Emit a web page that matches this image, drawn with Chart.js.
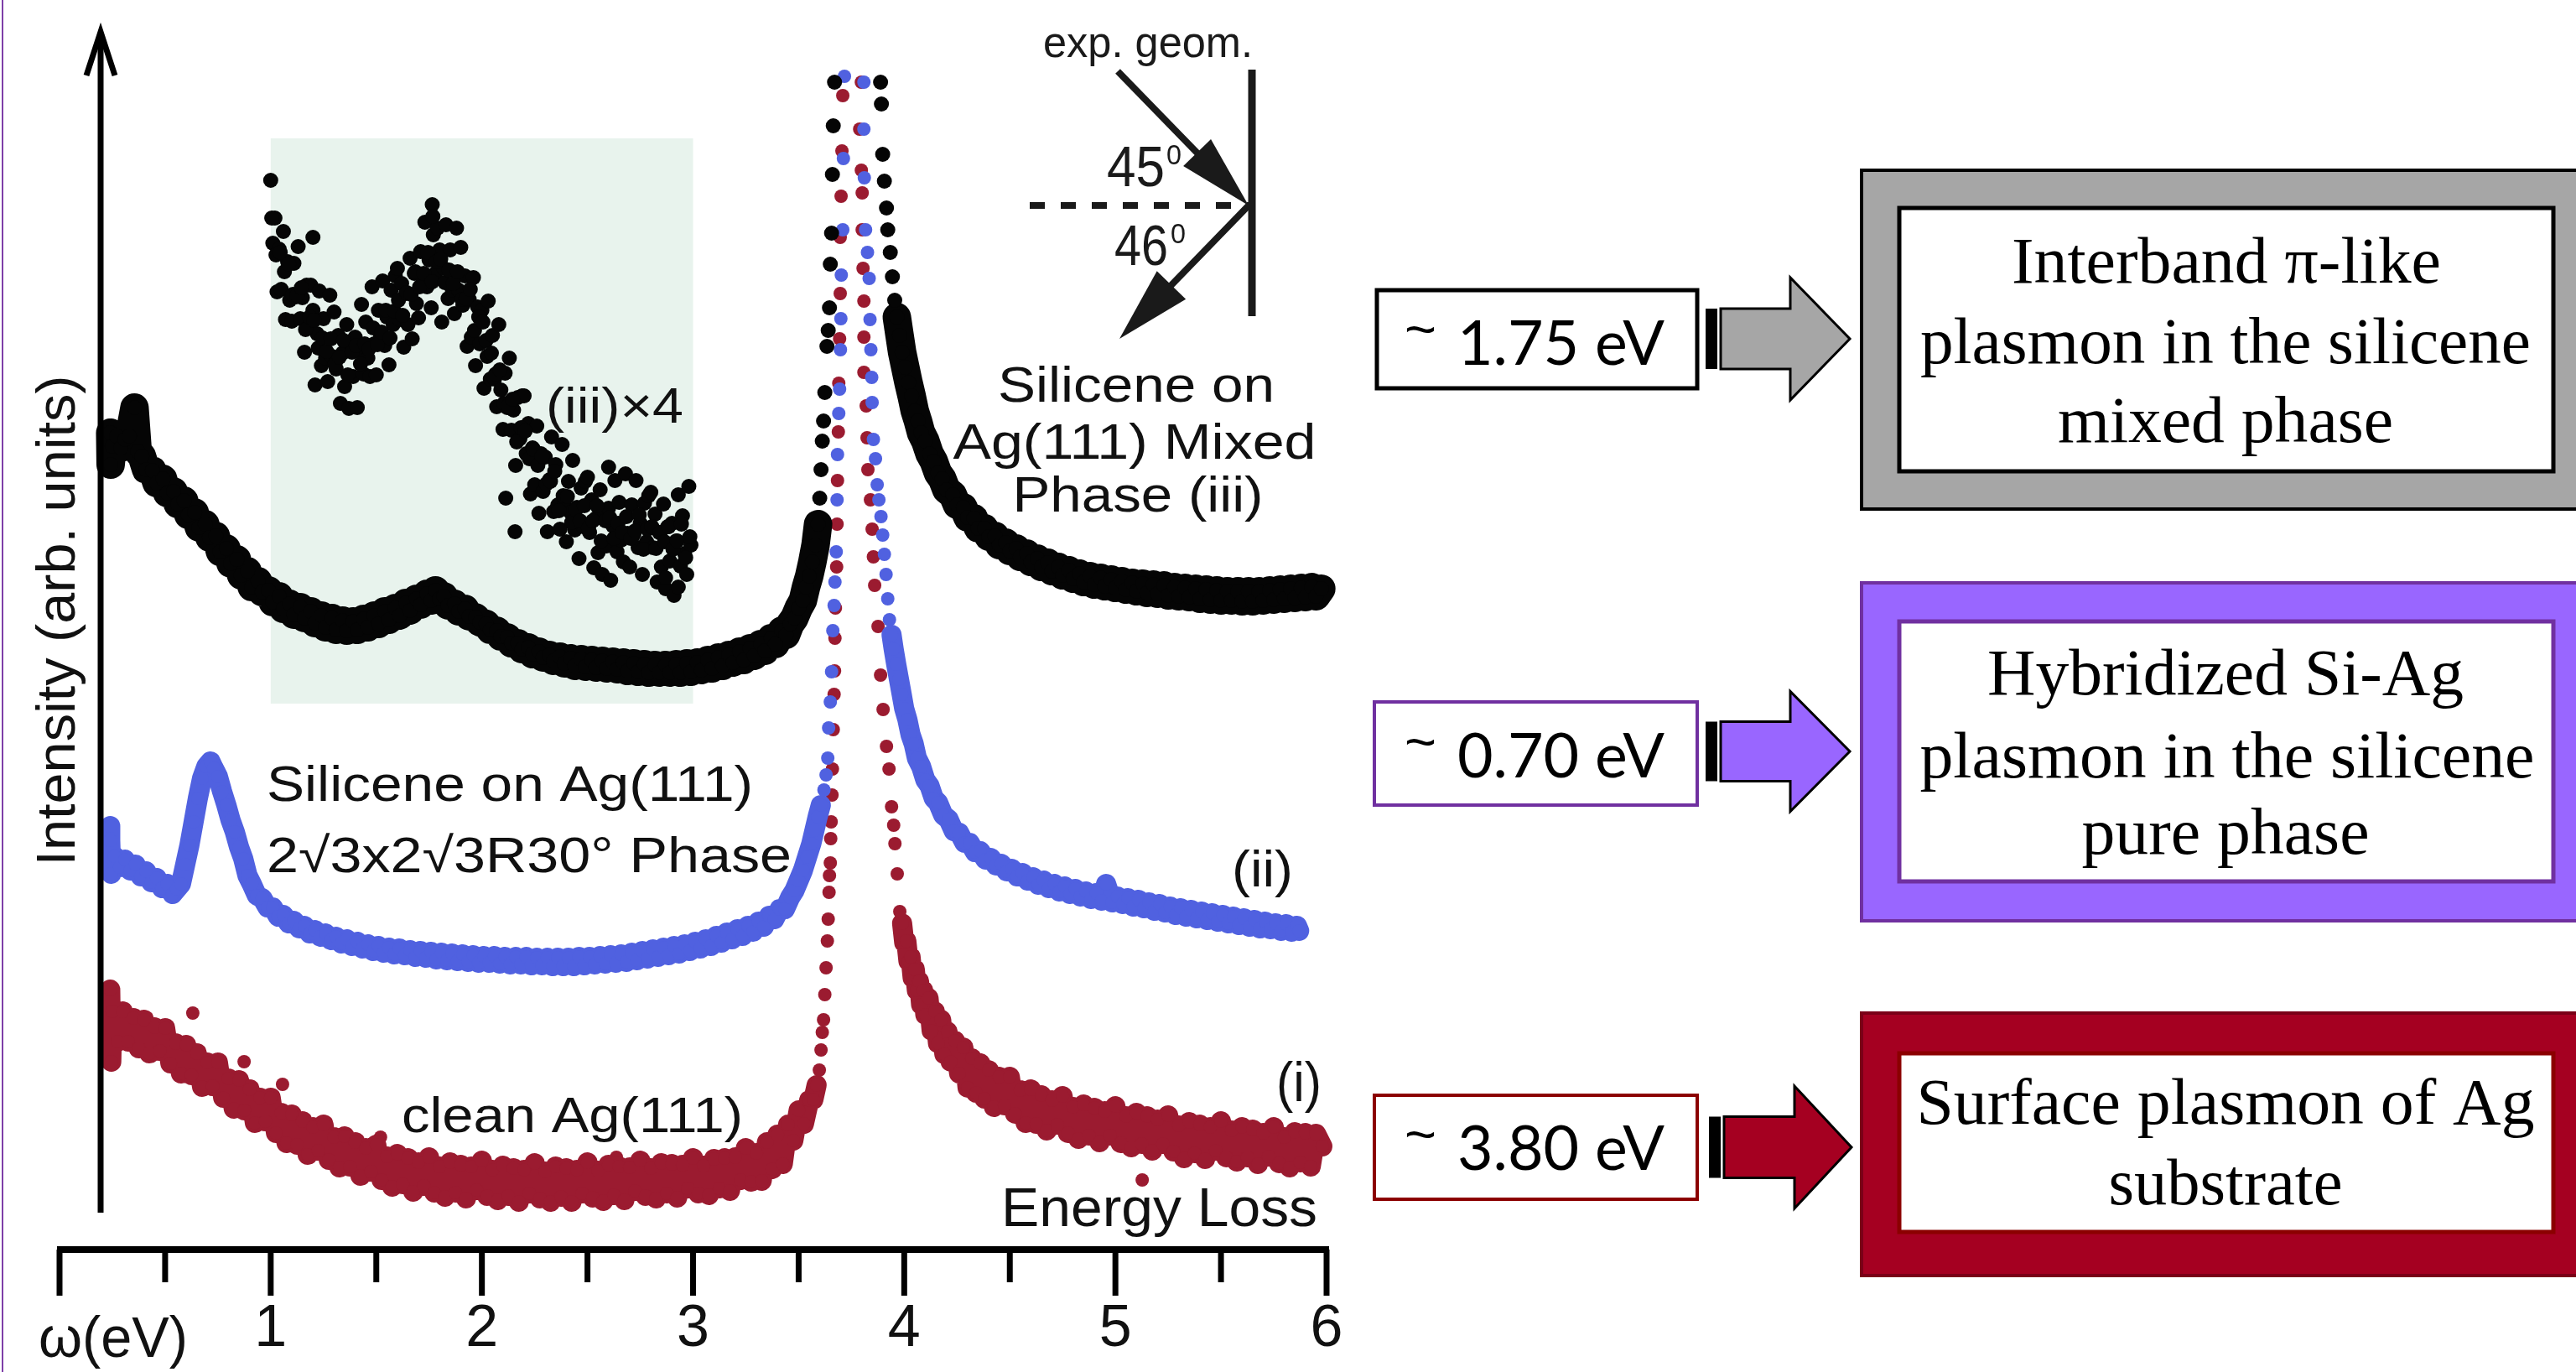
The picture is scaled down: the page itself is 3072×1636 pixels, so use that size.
<!DOCTYPE html>
<html>
<head>
<meta charset="utf-8">
<title>EELS of silicene on Ag(111)</title>
<script src="https://cdn.jsdelivr.net/npm/chart.js@4.4.1/dist/chart.umd.min.js"></script>
<style>
  html, body { margin: 0; padding: 0; background: #fff; }
  canvas { display: block; }
</style>
</head>
<body>
<canvas id="eels" width="3072" height="1636"></canvas>
<script>
// energy loss axis (eV)
const xMajorTicks = [0, 1, 2, 3, 4, 5, 6];
const xMinorTicks = [0.5, 1.5, 2.5, 3.5, 4.5, 5.5];
const xTickLabels = ['', '1', '2', '3', '4', '5', '6'];

// spectra: [energy loss (eV), intensity (arb. units)]
const cleanAg = [
  [0.240,31.0],[0.245,22.4],[0.250,28.4],[0.275,24.8],[0.300,28.4],[0.325,24.8],[0.350,27.6],[0.375,24.0],
  [0.400,27.4],[0.425,23.4],[0.450,26.5],[0.475,23.7],[0.500,26.4],[0.525,22.2],[0.550,24.6],[0.575,21.0],
  [0.600,24.4],[0.625,20.8],[0.650,23.4],[0.675,19.4],[0.700,22.3],[0.725,19.5],[0.750,22.3],[0.775,18.1],
  [0.800,20.4],[0.825,16.8],[0.850,20.2],[0.875,16.6],[0.900,19.1],[0.925,15.1],[0.950,18.1],[0.975,15.3],
  [1.000,18.1],[1.025,13.9],[1.050,16.3],[1.075,12.7],[1.100,16.1],[1.125,12.5],[1.150,15.3],[1.175,11.3],
  [1.200,14.6],[1.225,11.8],[1.250,14.9],[1.275,10.7],[1.300,13.4],[1.325,9.8],[1.350,13.5],[1.375,9.9],
  [1.400,12.8],[1.425,8.8],[1.450,12.1],[1.475,9.3],[1.500,12.5],[1.525,8.3],[1.550,11.1],[1.575,7.5],
  [1.600,11.4],[1.625,7.8],[1.650,10.9],[1.675,6.9],[1.700,10.4],[1.725,7.6],[1.750,11.0],[1.775,6.8],
  [1.800,9.9],[1.825,6.3],[1.850,10.4],[1.875,6.8],[1.900,10.1],[1.925,6.1],[1.950,9.9],[1.975,7.1],
  [2.000,10.6],[2.025,6.4],[2.050,9.5],[2.075,5.9],[2.100,10.0],[2.125,6.4],[2.150,9.7],[2.175,5.7],
  [2.200,9.5],[2.225,6.7],[2.250,10.3],[2.275,6.1],[2.300,9.3],[2.325,5.7],[2.350,9.9],[2.375,6.3],
  [2.400,9.7],[2.425,5.7],[2.450,9.5],[2.475,6.7],[2.500,10.4],[2.525,6.2],[2.550,9.4],[2.575,5.8],
  [2.600,10.1],[2.625,6.5],[2.650,9.9],[2.675,5.9],[2.700,9.8],[2.725,7.0],[2.750,10.6],[2.775,6.4],
  [2.800,9.7],[2.825,6.1],[2.850,10.3],[2.875,6.7],[2.900,10.2],[2.925,6.2],[2.950,10.1],[2.975,7.3],
  [3.000,10.9],[3.025,6.7],[3.050,10.0],[3.075,6.5],[3.100,10.8],[3.125,7.3],[3.150,10.9],[3.175,7.0],
  [3.200,11.0],[3.225,8.3],[3.250,12.1],[3.275,8.1],[3.300,11.5],[3.325,8.2],[3.350,12.8],[3.375,9.6],
  [3.400,13.7],[3.425,10.2],[3.450,14.9],[3.475,13.0],[3.500,16.6],[3.525,15.0],[3.550,17.8],[3.570,17.9],
  [3.585,19.6],
  [3.598,21.4],[3.606,23.8],[3.612,25.9],[3.618,27.4],[3.624,30.4],[3.630,33.6],[3.636,36.8],[3.640,39.4],
  [3.644,42.6],[3.646,44.6],[3.650,46.1],[3.652,49.0],[3.654,51.0],[3.658,54.2],[3.660,57.3],[3.664,62.0],
  [3.668,66.2],[3.670,69.0],[3.672,72.9],[3.674,76.5],[3.680,81.4],[3.682,86.5],[3.684,91.7],[3.688,97.5],
  [3.690,103.3],[3.694,108.6],[3.697,114.0],[3.697,120.7],[3.701,125.6],[3.705,131.0],[3.709,137.6],
  [3.797,139.2],[3.789,133.6],[3.797,128.7],[3.801,126.0],[3.801,121.6],[3.805,117.0],[3.809,113.1],[3.809,108.8],
  [3.809,104.6],[3.820,100.6],[3.824,96.8],[3.828,93.0],[3.840,89.4],[3.848,85.9],[3.854,82.6],[3.860,79.2],
  [3.876,74.3],[3.888,68.5],[3.900,64.4],[3.916,60.0],[3.928,57.3],[3.940,52.8],[3.950,50.6],[3.956,48.4],
  [3.967,44.8],[3.979,40.3],
  [3.990,38.9],[4.000,36.6],[4.010,36.8],[4.020,34.4],[4.030,34.9],[4.040,32.4],[4.050,33.4],[4.060,30.9],
  [4.070,32.0],[4.080,29.2],[4.090,30.9],[4.100,28.0],[4.115,30.0],[4.130,26.1],[4.145,28.4],[4.160,24.6],
  [4.175,27.4],[4.190,23.3],[4.205,26.0],[4.220,22.4],[4.240,24.9],[4.260,21.0],[4.280,24.1],[4.300,19.3],
  [4.320,22.8],[4.340,18.7],[4.360,22.2],[4.380,18.0],[4.400,21.4],[4.425,17.0],[4.450,20.6],[4.475,17.2],
  [4.500,20.6],[4.525,16.2],[4.550,19.0],[4.575,15.1],[4.600,19.1],[4.625,15.0],[4.650,18.4],[4.675,14.2],
  [4.700,17.8],[4.725,14.9],[4.750,18.3],[4.775,13.9],[4.800,17.0],[4.825,13.2],[4.850,17.3],[4.875,13.6],
  [4.900,16.9],[4.925,12.8],[4.950,16.5],[4.975,13.6],[5.000,17.1],[5.025,12.7],[5.050,15.9],[5.075,12.2],
  [5.100,16.3],[5.125,12.6],[5.150,15.9],[5.175,11.8],[5.200,15.5],[5.225,12.6],[5.250,16.0],[5.275,11.7],
  [5.300,14.8],[5.325,10.9],[5.350,15.2],[5.375,11.5],[5.400,14.9],[5.425,10.8],[5.450,14.6],[5.475,11.8],
  [5.500,15.3],[5.525,11.0],[5.550,14.2],[5.575,10.5],[5.600,14.6],[5.625,11.0],[5.650,14.3],[5.675,10.2],
  [5.700,13.9],[5.725,11.1],[5.750,14.6],[5.775,10.3],[5.800,13.4],[5.825,9.8],[5.850,14.0],[5.875,10.4],
  [5.900,13.9],[5.925,9.9],[5.950,13.8],[5.980,12.3]
];
// isolated counts away from the clean Ag(111) band
const cleanAgStray = [[0.631,28.2],[0.874,22.4],[1.056,19.7],[1.520,13.4],[2.637,11.0],[5.127,8.3]];

const silicenePure = [
  [0.240,50.5],[0.240,48.8],[0.245,44.8],[0.260,46.9],[0.285,45.6],[0.310,46.5],[0.335,45.2],[0.360,45.9],
  [0.385,44.5],[0.410,45.1],[0.435,43.8],[0.460,44.3],[0.485,43.1],[0.510,43.6],[0.535,42.4],[0.555,43.0],
  [0.575,43.6],[0.595,45.9],[0.615,48.2],[0.635,51.0],[0.655,53.8],[0.675,56.2],[0.695,57.6],[0.715,58.2],
  [0.730,57.4],[0.750,56.4],[0.770,54.6],[0.790,53.0],[0.810,51.2],[0.830,49.8],[0.850,48.0],[0.870,46.6],
  [0.890,44.6],[0.910,43.6],[0.935,42.2],[0.960,41.9],[0.985,40.8],[1.010,40.8],[1.035,39.7],[1.060,39.9],
  [1.085,38.9],[1.110,39.2],[1.135,38.3],[1.160,38.6],[1.185,37.7],[1.210,38.1],[1.235,37.3],[1.260,37.7],
  [1.285,36.9],[1.310,37.3],[1.335,36.5],[1.360,37.0],[1.385,36.2],[1.410,36.7],[1.435,35.9],[1.460,36.4],
  [1.485,35.6],[1.510,36.2],[1.535,35.4],[1.560,36.0],[1.585,35.2],[1.610,35.9],[1.635,35.1],[1.660,35.7],
  [1.685,34.9],[1.710,35.6],[1.735,34.8],[1.760,35.5],[1.785,34.6],[1.810,35.4],[1.835,34.5],[1.860,35.3],
  [1.885,34.4],[1.910,35.2],[1.935,34.3],[1.960,35.1],[1.985,34.2],[2.010,35.0],[2.035,34.2],[2.060,35.0],
  [2.085,34.1],[2.110,34.9],[2.135,34.0],[2.160,34.9],[2.185,34.0],[2.210,34.9],[2.235,33.9],[2.260,34.8],
  [2.285,33.9],[2.310,34.8],[2.335,33.8],[2.360,34.8],[2.385,33.8],[2.410,34.8],[2.435,33.8],[2.460,34.9],
  [2.485,33.9],[2.510,34.9],[2.535,34.0],[2.560,35.0],[2.585,34.1],[2.610,35.1],[2.635,34.2],[2.660,35.2],
  [2.685,34.3],[2.710,35.4],[2.735,34.5],[2.760,35.6],[2.785,34.7],[2.810,35.8],[2.835,34.9],[2.860,36.0],
  [2.885,35.1],[2.910,36.2],[2.935,35.3],[2.960,36.4],[2.985,35.6],[3.010,36.7],[3.035,35.9],[3.060,37.0],
  [3.085,36.2],[3.110,37.4],[3.135,36.6],[3.160,37.8],[3.185,37.0],[3.210,38.2],[3.235,37.4],[3.260,38.6],
  [3.285,37.9],[3.310,39.1],[3.335,38.5],[3.360,39.8],[3.385,39.4],[3.410,40.6],[3.435,40.6],[3.460,42.0],
  [3.480,42.8],[3.500,44.0],[3.520,45.2],[3.540,46.8],[3.560,48.4],[3.575,50.0],[3.590,51.6],[3.605,53.0],
  [3.620,54.8],[3.630,56.6],[3.638,58.6],[3.642,62.2],[3.650,65.3],[3.656,68.9],[3.662,73.8],[3.668,76.8],
  [3.672,79.6],[3.678,83.2],[3.682,89.4],[3.684,94.8],[3.690,99.7],[3.694,102.6],[3.698,107.3],[3.700,111.0],
  [3.702,116.2],[3.709,121.6],[3.712,130.1],[3.717,139.9],
  [3.809,139.2],[3.809,133.6],[3.811,127.8],[3.817,121.6],[3.826,118.9],[3.834,115.8],[3.838,110.9],[3.842,107.3],
  [3.846,104.0],[3.848,101.0],[3.854,96.6],[3.864,94.3],[3.872,91.2],[3.880,89.4],[3.890,87.4],[3.898,85.2],
  [3.906,82.9],[3.914,80.5],[3.922,77.6],[3.930,75.1],
  [3.940,73.3],[3.950,71.6],[3.962,69.8],[3.975,68.0],[3.988,66.2],[4.000,64.5],[4.015,63.2],[4.030,61.4],
  [4.045,60.3],[4.060,58.6],[4.080,57.6],[4.100,56.0],[4.120,55.3],[4.140,53.8],[4.160,53.3],[4.185,51.8],
  [4.210,51.3],[4.235,49.9],[4.260,49.7],[4.285,48.5],[4.310,48.5],[4.335,47.4],[4.360,47.5],[4.385,46.5],
  [4.410,46.7],[4.435,45.8],[4.460,46.0],[4.485,45.1],[4.510,45.4],[4.535,44.5],[4.560,44.9],[4.585,44.0],
  [4.610,44.4],[4.635,43.5],[4.660,44.0],[4.685,43.1],[4.710,43.6],[4.735,42.7],[4.760,43.3],[4.785,42.4],
  [4.810,43.0],[4.835,42.1],[4.860,42.7],[4.885,41.8],[4.910,42.5],[4.935,41.6],[4.956,43.6],[4.985,41.4],
  [5.010,42.1],[5.035,41.2],[5.060,41.9],[5.085,40.9],[5.110,41.7],[5.135,40.7],[5.160,41.4],[5.185,40.4],
  [5.210,41.2],[5.235,40.2],[5.260,40.9],[5.285,39.9],[5.310,40.7],[5.335,39.7],[5.360,40.5],[5.385,39.5],
  [5.410,40.3],[5.435,39.3],[5.460,40.1],[5.485,39.1],[5.510,39.9],[5.535,38.9],[5.560,39.7],[5.585,38.7],
  [5.610,39.5],[5.635,38.5],[5.660,39.3],[5.685,38.3],[5.710,39.1],[5.735,38.2],[5.760,38.9],[5.785,38.0],
  [5.810,38.8],[5.835,37.9],[5.860,38.6],[5.870,38.0]
];

const siliceneMixed = [
  [0.240,97.4],[0.242,93.6],[0.250,95.8],[0.270,97.0],[0.290,95.6],[0.310,96.6],[0.330,97.0],[0.355,100.4],
  [0.370,95.2],[0.390,94.6],[0.410,93.0],[0.440,92.9],[0.460,91.4],[0.490,91.9],[0.510,90.2],[0.540,90.4],
  [0.560,88.9],[0.590,89.3],[0.610,87.6],[0.640,87.9],[0.660,86.1],[0.690,86.5],[0.710,84.9],[0.740,85.1],
  [0.760,83.2],[0.790,83.6],[0.810,81.8],[0.840,82.3],[0.860,80.4],[0.890,80.9],[0.910,79.0],[0.940,79.7],
  [0.960,78.4],[0.990,78.6],[1.010,77.2],[1.040,77.9],[1.060,76.4],[1.090,77.0],[1.110,75.7],[1.140,76.6],
  [1.160,75.3],[1.190,76.1],[1.210,74.7],[1.240,75.6],[1.260,74.2],[1.290,75.3],[1.310,73.9],[1.340,75.0],
  [1.360,73.8],[1.390,74.9],[1.410,73.9],[1.440,75.2],[1.460,74.2],[1.490,75.6],[1.510,74.6],[1.540,76.1],
  [1.560,75.1],[1.590,76.5],[1.610,75.6],[1.640,77.1],[1.660,76.2],[1.690,77.6],[1.710,76.9],[1.740,78.2],
  [1.760,77.4],[1.780,78.6],[1.800,77.6],[1.820,77.9],[1.840,76.8],[1.870,77.0],[1.890,76.1],[1.920,76.4],
  [1.940,75.5],[1.970,75.4],[1.990,74.8],[2.020,74.6],[2.040,73.9],[2.070,73.8],[2.090,73.1],[2.120,73.0],
  [2.140,72.3],[2.170,72.3],[2.190,71.6],[2.220,71.8],[2.240,71.0],[2.270,71.3],[2.290,70.6],[2.320,70.9],
  [2.340,70.2],[2.370,70.7],[2.390,69.9],[2.420,70.5],[2.440,69.6],[2.470,70.4],[2.490,69.5],[2.520,70.3],
  [2.540,69.4],[2.570,70.2],[2.590,69.3],[2.620,70.1],[2.640,69.2],[2.670,70.0],[2.690,69.0],[2.720,69.9],
  [2.740,68.9],[2.770,69.8],[2.790,68.8],[2.820,69.7],[2.840,68.8],[2.870,69.7],[2.890,68.8],[2.920,69.8],
  [2.940,68.8],[2.970,69.9],[2.990,68.9],[3.020,70.0],[3.040,69.1],[3.070,70.3],[3.090,69.3],[3.120,70.6],
  [3.140,69.6],[3.170,70.9],[3.190,70.0],[3.220,71.3],[3.240,70.3],[3.270,71.7],[3.290,70.8],[3.320,72.2],
  [3.340,71.4],[3.370,72.9],[3.390,72.2],[3.420,73.8],[3.440,73.3],[3.460,74.6],[3.480,75.3],[3.500,76.5],
  [3.520,77.4],[3.535,79.0],[3.550,80.3],[3.565,82.0],[3.580,84.0],[3.592,86.5],
  [3.600,89.6],[3.606,93.0],[3.612,96.4],[3.618,98.8],[3.624,102.2],[3.634,107.7],[3.640,109.6],[3.646,112.3],
  [3.650,117.5],[3.656,121.2],[3.660,128.2],[3.664,134.0],[3.670,139.2],
  [3.888,139.2],[3.892,136.6],[3.898,130.6],[3.906,127.4],[3.916,124.2],[3.922,121.6],[3.934,118.9],[3.944,116.0],
  [3.955,113.2],
  [3.965,111.2],[3.978,109.0],[3.990,107.0],[4.005,105.2],[4.020,103.4],[4.035,101.8],[4.050,100.0],[4.065,98.8],
  [4.080,97.4],[4.100,96.4],[4.120,94.9],[4.140,94.0],[4.160,92.6],[4.180,91.9],[4.200,90.6],[4.230,90.0],
  [4.250,88.8],[4.280,88.5],[4.300,87.3],[4.330,87.2],[4.350,86.0],[4.380,86.0],[4.400,85.0],[4.430,85.1],
  [4.450,84.0],[4.480,84.3],[4.500,83.3],[4.530,83.6],[4.550,82.6],[4.580,83.0],[4.600,82.0],[4.630,82.4],
  [4.650,81.4],[4.680,81.9],[4.700,80.9],[4.730,81.4],[4.750,80.4],[4.780,81.0],[4.800,80.0],[4.830,80.6],
  [4.850,79.6],[4.880,80.3],[4.900,79.3],[4.930,80.1],[4.950,79.1],[4.980,79.9],[5.000,78.9],[5.030,79.7],
  [5.050,78.7],[5.080,79.5],[5.100,78.5],[5.130,79.4],[5.150,78.3],[5.180,79.3],[5.200,78.2],[5.230,79.2],
  [5.250,78.0],[5.280,79.0],[5.300,77.9],[5.330,78.9],[5.350,77.8],[5.380,78.8],[5.400,77.6],[5.430,78.7],
  [5.450,77.5],[5.480,78.6],[5.500,77.4],[5.530,78.5],[5.550,77.4],[5.580,78.5],[5.600,77.3],[5.630,78.5],
  [5.650,77.3],[5.680,78.5],[5.700,77.4],[5.730,78.6],[5.750,77.5],[5.780,78.7],[5.800,77.6],[5.830,78.8],
  [5.850,77.7],[5.880,78.9],[5.900,77.8],[5.930,79.0],[5.950,77.9],[5.975,78.8]
];

// the mixed-phase spectrum between 1 and 3 eV, magnified x4 (inset): a wide noisy cloud
const siliceneMixedX4 = [
  [1.00,127.5],[1.01,120.0],[1.02,123.0],[1.03,114.2],[1.04,119.3],[1.05,114.5],[1.06,121.4],[1.07,110.9],[1.08,117.8],[1.09,113.2],
  [1.10,110.7],[1.11,117.6],[1.12,113.6],[1.13,119.6],[1.14,111.0],[1.15,113.5],[1.16,107.0],[1.17,115.0],[1.18,110.0],[1.19,115.0],
  [1.20,112.0],[1.21,103.1],[1.22,109.2],[1.23,114.3],[1.24,105.4],[1.25,111.0],[1.26,106.3],[1.27,103.5],[1.28,113.8],[1.29,106.5],
  [1.30,111.8],[1.31,105.0],[1.32,109.0],[1.33,100.9],[1.34,106.9],[1.35,102.9],[1.36,110.3],[1.37,100.3],[1.38,108.0],[1.39,104.1],
  [1.40,108.8],[1.41,100.4],[1.42,107.1],[1.43,112.7],[1.44,104.4],[1.45,110.6],[1.46,106.3],[1.47,104.1],[1.48,114.8],[1.49,108.0],
  [1.50,104.3],[1.51,112.0],[1.52,108.8],[1.53,115.5],[1.54,107.8],[1.55,111.2],[1.56,105.5],[1.57,114.4],[1.58,110.3],[1.59,116.1],
  [1.60,117.0],[1.61,110.9],[1.62,115.2],[1.63,107.6],[1.64,114.0],[1.65,110.3],[1.66,118.2],[1.67,108.6],[1.68,116.4],[1.69,112.8],
  [1.70,111.1],[1.71,119.0],[1.72,115.8],[1.73,122.5],[1.74,114.8],[1.75,118.0],[1.76,112.3],[1.77,121.0],[1.78,116.4],[1.79,121.8],
  [1.80,119.2],[1.81,110.6],[1.82,117.0],[1.83,122.2],[1.84,113.4],[1.85,119.2],[1.86,114.4],[1.87,111.6],[1.88,121.8],[1.89,114.4],
  [1.90,119.5],[1.91,112.6],[1.92,116.1],[1.93,107.7],[1.94,113.3],[1.95,108.8],[1.96,115.9],[1.97,105.4],[1.98,112.4],[1.99,108.0],
  [2.00,112.0],[2.01,102.7],[2.02,108.4],[2.03,113.1],[2.04,103.8],[2.05,109.0],[2.06,103.8],[2.07,100.5],[2.08,110.3],[2.09,102.5],
  [2.10,97.8],[2.11,104.5],[2.12,100.4],[2.13,106.3],[2.14,97.7],[2.15,100.1],[2.16,93.5],[2.17,101.6],[2.18,96.7],[2.19,101.8],
  [2.20,101.8],[2.21,94.9],[2.22,98.5],[2.23,90.1],[2.24,95.6],[2.25,91.2],[2.26,98.2],[2.27,87.8],[2.28,94.9],[2.29,90.4],
  [2.30,94.5],[2.31,85.6],[2.32,91.8],[2.33,96.9],[2.34,88.0],[2.35,93.6],[2.36,88.8],[2.37,85.9],[2.38,96.0],[2.39,88.7],
  [2.40,84.4],[2.41,91.6],[2.42,87.9],[2.43,94.1],[2.44,85.8],[2.45,88.5],[2.46,82.4],[2.47,90.8],[2.48,86.2],[2.49,91.6],
  [2.50,92.1],[2.51,85.5],[2.52,89.4],[2.53,81.3],[2.54,87.2],[2.55,83.1],[2.56,90.6],[2.57,80.5],[2.58,88.0],[2.59,83.9],
  [2.60,88.4],[2.61,79.8],[2.62,86.3],[2.63,91.7],[2.64,83.2],[2.65,89.1],[2.66,84.6],[2.67,82.0],[2.68,92.5],[2.69,85.4],
  [2.70,81.4],[2.71,88.8],[2.72,85.3],[2.73,91.7],[2.74,83.7],[2.75,86.6],[2.76,80.5],[2.77,89.0],[2.78,84.4],[2.79,89.9],
  [2.80,90.3],[2.81,83.7],[2.82,87.7],[2.83,79.6],[2.84,85.5],[2.85,81.4],[2.86,88.9],[2.87,78.8],[2.88,86.2],[2.89,82.1],
  [2.90,86.6],[2.91,78.0],[2.92,84.5],[2.93,90.0],[2.94,81.5],[2.95,87.5],[2.96,83.0],[2.97,80.5],[2.98,91.0],[2.99,84.0],
  [1.005,123.0],[1.025,118.6],[1.045,118.9],[1.065,116.6],[1.085,117.5],[1.105,113.9],[1.125,113.8],[1.145,114.7],[1.165,109.7],[1.185,111.2],
  [1.205,110.8],[1.225,107.5],[1.245,108.7],[1.265,107.1],[1.285,108.6],[1.305,105.6],[1.325,106.4],[1.345,108.4],[1.365,104.3],[1.385,107.0],
  [1.405,107.8],[1.425,105.6],[1.445,108.0],[1.465,107.4],[1.485,109.9],[1.505,107.9],[1.525,109.4],[1.545,112.0],[1.565,108.7],[1.585,111.9],
  [1.605,113.2],[1.625,111.4],[1.645,114.1],[1.665,113.9],[1.685,116.6],[1.705,114.8],[1.725,116.4],[1.745,118.9],[1.765,115.4],[1.785,117.8],
  [1.805,118.1],[1.825,115.3],[1.845,116.8],[1.865,115.2],[1.885,116.6],[1.905,113.3],[1.925,113.4],[1.945,114.5],[1.965,109.6],[1.985,111.2],
  [2.005,110.6],[2.025,106.5],[2.045,106.9],[2.065,104.4],[2.085,104.9],[2.105,100.9],[2.125,100.6],[2.145,101.4],[2.165,96.3],[2.185,98.0],
  [2.205,97.6],[2.225,94.3],[2.245,95.4],[2.265,93.5],[2.285,94.6],[2.305,91.3],[2.325,91.6],[2.345,92.8],[2.365,88.1],[2.385,89.9],
  [2.405,89.8],[2.425,86.7],[2.445,88.2],[2.465,86.9],[2.485,88.7],[2.505,86.0],[2.525,86.9],[2.545,88.7],[2.565,84.5],[2.585,86.9],
  [2.605,87.3],[2.625,84.8],[2.645,86.6],[2.665,85.5],[2.685,87.4],[2.705,84.8],[2.725,85.7],[2.745,87.6],[2.765,83.5],[2.785,85.9],
  [2.805,86.2],[2.825,83.6],[2.845,85.5],[2.865,84.4],[2.885,86.2],[2.905,83.5],[2.925,84.5],[2.945,86.5],[2.965,82.5],[2.985,85.0],
  [1.200,120.7],[1.765,124.6],[1.768,123.2],[2.113,89.6],[2.157,85.6],[2.600,93.3],[2.870,80.1],[2.930,79.0]
];

// right-hand summary
const plasmonEnergies = ['1.75 eV', '0.70 eV', '3.80 eV'];
const plasmonNames = [
  ['Interband \u03c0-like', 'plasmon in the silicene', 'mixed phase'],
  ['Hybridized Si-Ag', 'plasmon in the silicene', 'pure phase'],
  ['Surface plasmon of Ag', 'substrate']
];

const RED = '#9b1b30';
const BLUE = '#5061e0';
const BLACK = '#050505';
const SANS = '"Liberation Sans", Arial, sans-serif';
const SERIF = '"Liberation Serif", "Times New Roman", serif';

const toXY = pts => pts.map(p => ({ x: p[0], y: p[1] }));

// the steep flanks of the 3.8 eV peak are sampled so sparsely that the dots stand apart
function openPeak(color, lo, hi) {
  const inside = v => v >= lo && v <= hi;
  return {
    borderColor: ctx => (inside(ctx.p0.parsed.x) || inside(ctx.p1.parsed.x)) ? 'transparent' : color
  };
}

function band(label, pts, color, width, radius, peak, order) {
  return {
    label: label,
    data: toXY(pts),
    showLine: true,
    borderColor: color,
    borderWidth: width,
    borderJoinStyle: 'round',
    borderCapStyle: 'round',
    pointRadius: radius,
    pointBorderWidth: 0,
    pointBackgroundColor: color,
    segment: openPeak(color, peak[0], peak[1]),
    clip: false,
    order: order
  };
}

function text(ctx, str, x, y, font, width, align) {
  ctx.save();
  ctx.font = font;
  const s = width ? width / ctx.measureText(str).width : 1;
  ctx.translate(x, y);
  ctx.scale(s, 1);
  ctx.textAlign = align || 'left';
  ctx.textBaseline = 'alphabetic';
  ctx.fillText(str, 0, 0);
  ctx.restore();
}

function arrowHead(ctx, tx, ty, fx, fy, len, half) {
  const a = Math.atan2(ty - fy, tx - fx);
  const bx = tx - len * Math.cos(a), by = ty - len * Math.sin(a);
  ctx.beginPath();
  ctx.moveTo(tx, ty);
  ctx.lineTo(bx + half * Math.sin(a), by - half * Math.cos(a));
  ctx.lineTo(bx - half * Math.sin(a), by + half * Math.cos(a));
  ctx.closePath();
  ctx.fill();
}

function blockArrow(ctx, tail, yc, shaft, headX, tipX, head, fill) {
  ctx.save();
  ctx.fillStyle = '#000';
  ctx.fillRect(tail - 18, yc - shaft / 2, 14, shaft);
  ctx.beginPath();
  ctx.moveTo(tail, yc - shaft / 2);
  ctx.lineTo(headX, yc - shaft / 2);
  ctx.lineTo(headX, yc - head / 2);
  ctx.lineTo(tipX, yc);
  ctx.lineTo(headX, yc + head / 2);
  ctx.lineTo(headX, yc + shaft / 2);
  ctx.lineTo(tail, yc + shaft / 2);
  ctx.closePath();
  ctx.fillStyle = fill;
  ctx.fill();
  ctx.lineWidth = 3;
  ctx.strokeStyle = '#000';
  ctx.stroke();
  ctx.restore();
}

function frame(ctx, x, y, w, h, fill, stroke, lw) {
  ctx.save();
  ctx.fillStyle = fill;
  ctx.fillRect(x, y, w, h);
  ctx.lineWidth = lw;
  ctx.strokeStyle = stroke;
  ctx.strokeRect(x, y, w, h);
  ctx.restore();
}

// shaded window behind the x4 inset, in data units: [x0, x1, y0, y1]
const insetWindow = [1.0, 3.0, 65.1, 132.5];

const decor = {
  id: 'decor',
  beforeDatasetsDraw(chart) {
    const { ctx, scales: { x, y } } = chart;
    const l = x.getPixelForValue(insetWindow[0]);
    const r = x.getPixelForValue(insetWindow[1]);
    const t = y.getPixelForValue(insetWindow[3]);
    const b = y.getPixelForValue(insetWindow[2]);
    ctx.save();
    ctx.fillStyle = '#e8f3ed';
    ctx.fillRect(l, t, r - l, b - t);
    ctx.restore();
  },
  afterDraw(chart) {
    const { ctx, chartArea, scales: { x } } = chart;
    const base = chartArea.bottom;
    ctx.save();

    // thin purple rule on the left edge
    ctx.fillStyle = '#7e3fa8';
    ctx.fillRect(2, 0, 2, chart.height);

    // energy axis
    ctx.strokeStyle = '#000';
    ctx.lineWidth = 8;
    ctx.beginPath();
    ctx.moveTo(x.getPixelForValue(xMajorTicks[0]) - 3, base);
    ctx.lineTo(x.getPixelForValue(xMajorTicks[xMajorTicks.length - 1]) + 3, base);
    ctx.stroke();
    ctx.lineWidth = 7;
    xMajorTicks.forEach(v => {
      const px = x.getPixelForValue(v);
      ctx.beginPath(); ctx.moveTo(px, base); ctx.lineTo(px, base + 55); ctx.stroke();
    });
    xMinorTicks.forEach(v => {
      const px = x.getPixelForValue(v);
      ctx.beginPath(); ctx.moveTo(px, base); ctx.lineTo(px, base + 39); ctx.stroke();
    });
    ctx.fillStyle = '#111';
    xMajorTicks.forEach((v, i) => {
      if (xTickLabels[i]) text(ctx, xTickLabels[i], x.getPixelForValue(v), 1605, '70px ' + SANS, 0, 'center');
    });
    text(ctx, '\u03c9(eV)', 46, 1618, '68px ' + SANS, 178);

    // intensity arrow
    ctx.lineWidth = 7;
    ctx.beginPath(); ctx.moveTo(120, 1446); ctx.lineTo(120, 42); ctx.stroke();
    ctx.beginPath(); ctx.moveTo(103, 90); ctx.lineTo(120, 38); ctx.lineTo(137, 90); ctx.stroke();
    ctx.save();
    ctx.translate(89, 740);
    ctx.rotate(-Math.PI / 2);
    text(ctx, 'Intensity (arb. units)', 0, 0, '64px ' + SANS, 585, 'center');
    ctx.restore();

    // curve labels
    text(ctx, '(iii)\u00d74', 651, 504, '60px ' + SANS, 164);
    text(ctx, 'Silicene on Ag(111)', 318, 955, '59px ' + SANS, 580);
    text(ctx, '2\u221a3x2\u221a3R30\u00b0 Phase', 318, 1040, '59px ' + SANS, 626);
    text(ctx, 'clean Ag(111)', 479, 1350, '59px ' + SANS, 407);
    text(ctx, '(ii)', 1469, 1057, '62px ' + SANS, 73);
    text(ctx, '(i)', 1522, 1313, '66px ' + SANS, 54);
    text(ctx, 'Energy Loss', 1571, 1462, '64px ' + SANS, 377, 'right');
    text(ctx, 'Silicene on', 1355, 479, '60px ' + SANS, 330, 'center');
    text(ctx, 'Ag(111) Mixed', 1353, 547, '60px ' + SANS, 433, 'center');
    text(ctx, 'Phase (iii)', 1357, 610, '60px ' + SANS, 299, 'center');

    // scattering geometry sketch
    ctx.fillStyle = '#1a1a1a';
    ctx.strokeStyle = '#1a1a1a';
    text(ctx, 'exp. geom.', 1369, 68, '52px ' + SANS, 250, 'center');
    ctx.lineWidth = 9;
    ctx.beginPath(); ctx.moveTo(1493, 83); ctx.lineTo(1493, 377); ctx.stroke();
    ctx.lineWidth = 8;
    ctx.setLineDash([18, 19]);
    ctx.beginPath(); ctx.moveTo(1228, 245); ctx.lineTo(1489, 245); ctx.stroke();
    ctx.setLineDash([]);
    ctx.lineWidth = 8;
    ctx.beginPath(); ctx.moveTo(1333, 85); ctx.lineTo(1440, 195); ctx.stroke();
    arrowHead(ctx, 1489, 245, 1333, 85, 88, 23);
    ctx.beginPath(); ctx.moveTo(1489, 245); ctx.lineTo(1390, 347); ctx.stroke();
    arrowHead(ctx, 1335, 404, 1489, 245, 89, 24);
    text(ctx, '45', 1320, 222, '68px ' + SANS, 69);
    text(ctx, '0', 1391, 196, '34px ' + SANS, 18);
    text(ctx, '46', 1329, 316, '68px ' + SANS, 64);
    text(ctx, '0', 1396, 290, '34px ' + SANS, 18);

    // summary boxes
    const outer = [
      { y: 203, h: 404, fill: '#a6a6a6', line: '#000' },
      { y: 695, h: 403, fill: '#9966ff', line: '#7030a0' },
      { y: 1208, h: 313, fill: '#a50021', line: '#7a0018' }
    ];
    const inner = [
      { y: 248, h: 314, line: '#000' },
      { y: 741, h: 310, line: '#7030a0' },
      { y: 1256, h: 213, line: '#8b0000' }
    ];
    const small = [
      { x: 1642, y: 346, w: 382, h: 117, line: '#000', lw: 5, base: 435 },
      { x: 1639, y: 837, w: 385, h: 123, line: '#7030a0', lw: 4, base: 927 },
      { x: 1639, y: 1306, w: 385, h: 124, line: '#8b0000', lw: 4, base: 1395 }
    ];
    const arrows = [
      { tail: 2052, yc: 404, shaft: 72, headX: 2135, tip: 2206, head: 146 },
      { tail: 2052, yc: 896, shaft: 71, headX: 2135, tip: 2206, head: 143 },
      { tail: 2056, yc: 1368, shaft: 73, headX: 2140, tip: 2208, head: 146 }
    ];
    const lines = [
      [[2655, 337, 512], [2654, 433, 728], [2654, 527, 400]],
      [[2654, 828, 568], [2656, 927, 733], [2654, 1018, 343]],
      [[2654, 1340, 737], [2654, 1436, 279]]
    ];
    outer.forEach((o, i) => {
      frame(ctx, 2220, o.y, 900, o.h, o.fill, o.line, 4);
      frame(ctx, 2265, inner[i].y, 780, inner[i].h, '#fff', inner[i].line, 5);
      const s = small[i];
      frame(ctx, s.x, s.y, s.w, s.h, '#fff', s.line, s.lw);
      blockArrow(ctx, arrows[i].tail, arrows[i].yc, arrows[i].shaft, arrows[i].headX, arrows[i].tip, arrows[i].head, o.fill);
      ctx.fillStyle = '#000';
      text(ctx, '~', 1694, s.base - 20, '64px ' + SANS, 38, 'center');
      text(ctx, plasmonEnergies[i], 1738, s.base, '74px Lato, ' + SANS, 247);
      plasmonNames[i].forEach((str, k) => {
        const l = lines[i][k];
        text(ctx, str, l[0], l[1], '78px ' + SERIF, l[2], 'center');
      });
    });

    ctx.restore();
  }
};

new Chart(document.getElementById('eels').getContext('2d'), {
  type: 'scatter',
  data: {
    datasets: [
      {
        label: '(iii) x4',
        data: toXY(siliceneMixedX4),
        showLine: false,
        pointRadius: 9,
        pointBorderWidth: 0,
        pointBackgroundColor: BLACK,
        clip: false,
        order: 1
      },
      band('Silicene on Ag(111) mixed phase (iii)', siliceneMixed, BLACK, 34, 9, [3.595, 3.96], 2),
      band('Silicene on Ag(111) 2\u221a3x2\u221a3R30\u00b0 (ii)', silicenePure, BLUE, 24, 8, [3.615, 3.935], 3),
      band('clean Ag(111) (i)', cleanAg, RED, 24, 8, [3.592, 3.985], 4),
      {
        label: 'clean Ag(111) stray',
        data: toXY(cleanAgStray),
        showLine: false,
        pointRadius: 8,
        pointBorderWidth: 0,
        pointBackgroundColor: RED,
        clip: false,
        order: 4
      }
    ]
  },
  options: {
    responsive: false,
    animation: false,
    events: [],
    layout: { padding: { left: 71, right: 1490, top: 40, bottom: 146 } },
    plugins: {
      legend: { display: false },
      tooltip: { enabled: false }
    },
    scales: {
      x: { type: 'linear', min: 0, max: 6, display: false },
      y: { type: 'linear', min: 0, max: 145, display: false }
    }
  },
  plugins: [decor]
});
</script>
</body>
</html>
